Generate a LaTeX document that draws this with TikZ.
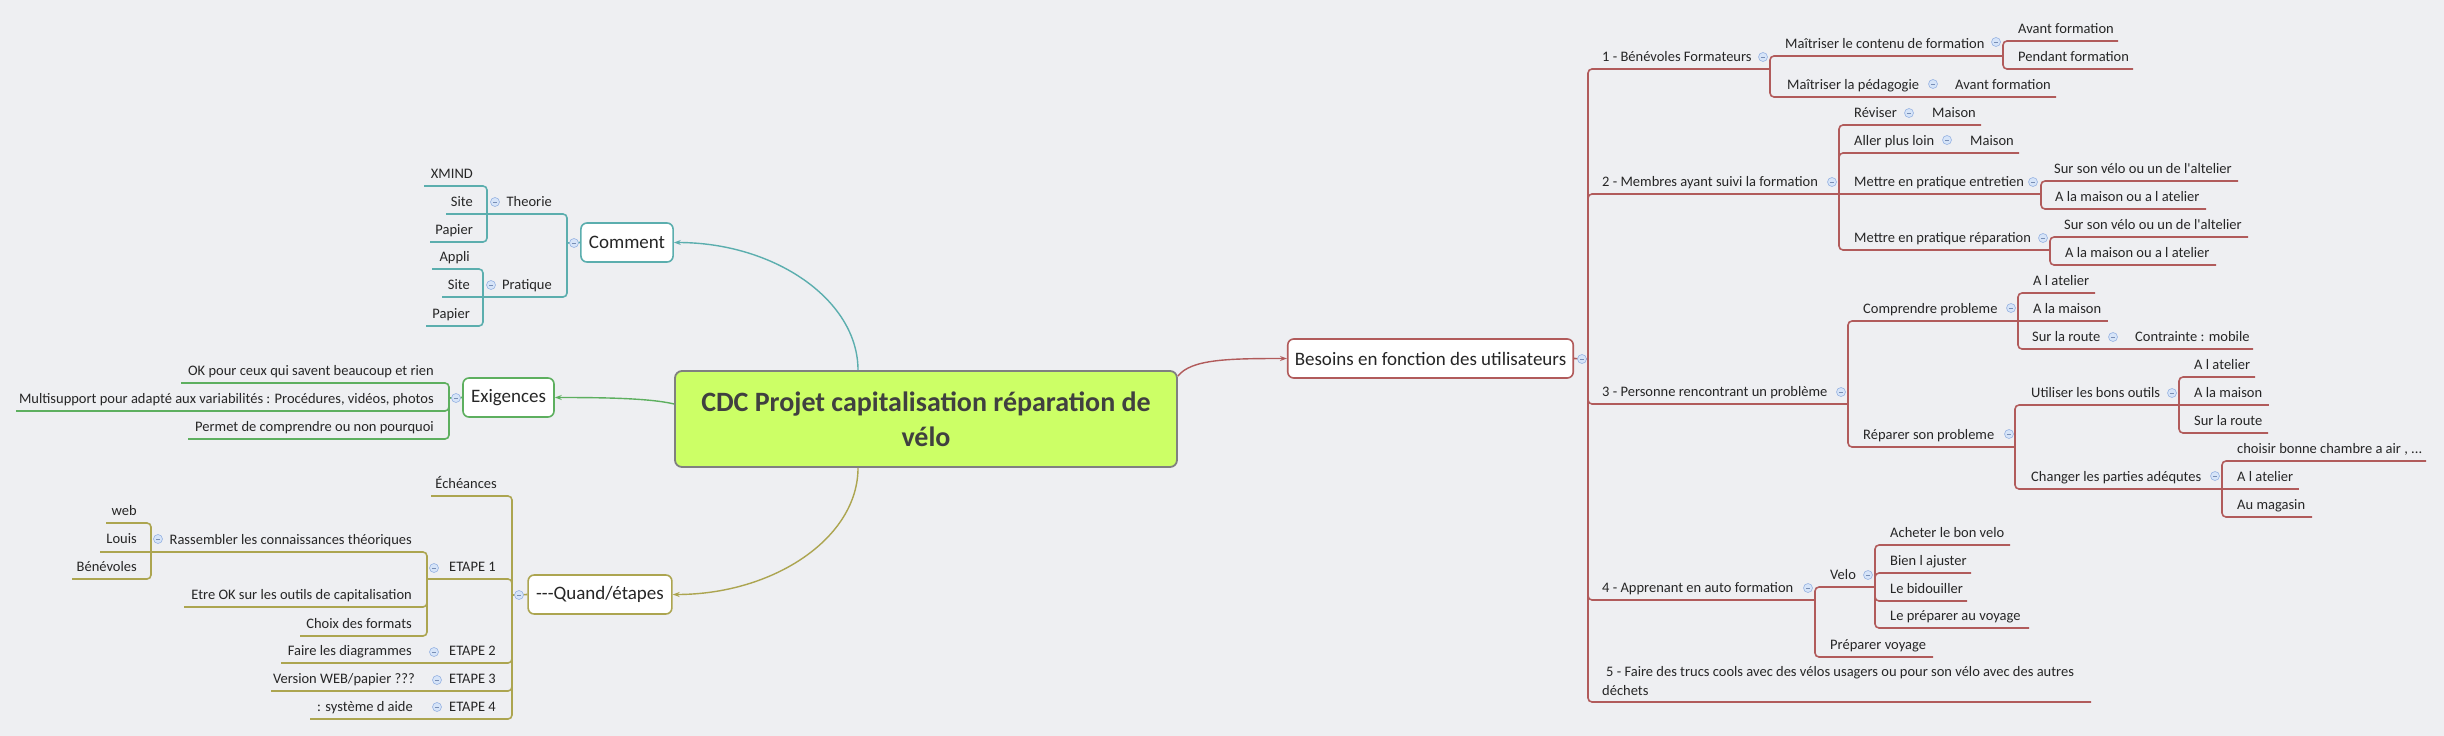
\documentclass[tikz,border=0pt]{standalone}
\usepackage{fontspec}
\setmainfont{Carlito}[Ligatures=TeXOff]
\usetikzlibrary{arrows.meta}
\definecolor{bgcol}{RGB}{238,239,242}
\definecolor{comm}{RGB}{91,174,174}
\definecolor{exig}{RGB}{93,175,95}
\definecolor{quand}{RGB}{172,165,80}
\definecolor{bes}{RGB}{177,91,91}
\definecolor{rootfill}{RGB}{204,255,102}
\definecolor{icofill}{RGB}{214,228,248}
\definecolor{icoline}{RGB}{150,178,226}

\begin{document}
\begin{tikzpicture}[x=1pt, y=-1pt, >={Stealth[length=7pt, width=5pt]},
    lbl/.style={inner sep=0, anchor=base west, text=black!85, font=\fontsize{14.5}{19}\selectfont},
    lblr/.style={lbl, anchor=base east},
    box/.style={draw, line width=1.6pt, rounded corners=6pt, fill=white, minimum height=39pt, inner xsep=8pt, text=black!85, font=\fontsize{19}{23}\selectfont},
    branch/.style={line width=1.6pt, rounded corners=4pt},
    icon/.style={circle, draw=icoline, fill=icofill, line width=0.6pt, minimum size=9pt, inner sep=0,
        path picture={\draw[icoline!80!black, line width=0.7pt] ([xshift=2.3pt]path picture bounding box.west) -- ([xshift=-2.3pt]path picture bounding box.east);}}]
\useasboundingbox (0,0) rectangle (2444,736);
\fill[bgcol] (0,0) rectangle (2444,736);

% centre et branches principales
\node[draw=black!50, line width=1.8pt, rounded corners=7pt, fill=rootfill, minimum width=502pt, minimum height=96pt, text=black!75, align=center, font=\fontsize{28}{35}\selectfont\bfseries] (root) at (926,419) {CDC Projet capitalisation réparation de\\vélo};
\node[box, draw=comm] (cmt) at (627,242.5) {Comment};
\node[box, draw=exig] (exg) at (508.5,397.5) {Exigences};
\node[box, draw=quand] (qnd) at (600,594.5) {-{}-{}-Quand/étapes};
\node[box, draw=bes, inner xsep=7pt] (bes) at (1430.5,358.5) {Besoins en fonction des utilisateurs};

\draw[comm, line width=1.4pt, ->] ([xshift=-68pt]root.north) .. controls +(0,-70) and +(101,0) .. (cmt.east);
\draw[exig, line width=1.4pt, ->] ([yshift=15pt]root.west) .. controls +(-25,-6) and +(46,0) .. (exg.east);
\draw[quand, line width=1.4pt, ->] ([xshift=-68pt]root.south) .. controls +(0,70) and +(101,0) .. (qnd.east);
\draw[bes, line width=1.4pt, ->] ([yshift=-6pt]root.north east) .. controls +(13,-17) and +(-58,0) .. (bes.west);

% Comment
\node[lblr] (theo) at (552,206) {Theorie};
\node[lblr] (xmind) at (473,178) {XMIND};
\node[lblr] (siteT) at (473,206) {Site};
\node[lblr] (papT) at (473,234) {Papier};
\node[lblr] (prat) at (552,289) {Pratique};
\node[lblr] (appli) at (470,261) {Appli};
\node[lblr] (siteP) at (470,289) {Site};
\node[lblr] (papP) at (470,318) {Papier};
\draw[comm, branch] (cmt.west) -- (567,243);
\draw[comm, branch] (567,243) |- (487,214);
\draw[comm, branch] (487,214) |- (424,186);
\draw[comm, branch] (487,214) -- (446,214);
\draw[comm, branch] (487,214) |- (430,242);
\draw[comm, branch] (567,243) |- (483,297);
\draw[comm, branch] (483,297) |- (432,269);
\draw[comm, branch] (483,297) -- (442,297);
\draw[comm, branch] (483,297) |- (426,326);

% Exigences
\node[lblr] (exg1) at (434,375) {OK pour ceux qui savent beaucoup et rien};
\node[lblr] (exg2) at (434,403) {Multisupport pour adapté aux variabilités : Procédures, vidéos, photos};
\node[lblr] (exg3) at (434,431) {Permet de comprendre ou non pourquoi};
\draw[exig, branch] (exg.west) -- (449,398);
\draw[exig, branch] (449,398) |- (181,383);
\draw[exig, branch] (449,398) |- (16,411);
\draw[exig, branch] (449,398) |- (188,439);

% Quand
\node[lblr] (ech) at (497,488) {Échéances};
\node[lblr] (et1) at (496,571) {ETAPE 1};
\node[lblr] (ras) at (412,544) {Rassembler les connaissances théoriques};
\node[lblr] (web) at (137,515) {web};
\node[lblr] (louis) at (137,543) {Louis};
\node[lblr] (benev) at (137,571) {Bénévoles};
\node[lblr] (etre) at (412,599) {Etre OK sur les outils de capitalisation};
\node[lblr] (choix) at (412,628) {Choix des formats};
\node[lblr] (et2) at (496,655) {ETAPE 2};
\node[lblr] (diag) at (412,655) {Faire les diagrammes};
\node[lblr] (et3) at (496,683) {ETAPE 3};
\node[lblr] (vers) at (415,683) {Version WEB/papier ???};
\node[lblr] (et4) at (496,711) {ETAPE 4};
\node[lblr] (aide) at (413,711) {: système d aide};
\draw[quand, branch] (qnd.west) -- (512,595);
\draw[quand, branch] (512,595) |- (431,496);
\draw[quand, branch] (512,595) |- (427,579);
\draw[quand, branch] (427,579) |- (151,552);
\draw[quand, branch] (151,552) |- (106,523);
\draw[quand, branch] (151,552) -- (100,552);
\draw[quand, branch] (151,552) |- (72,579);
\draw[quand, branch] (427,579) |- (184,607);
\draw[quand, branch] (427,579) |- (300,636);
\draw[quand, branch] (512,595) |- (281,663);
\draw[quand, branch] (512,595) |- (271,691);
\draw[quand, branch] (512,595) |- (310,719);

% Besoins
\node[lbl] (b1) at (1602,61) {1 - Bénévoles Formateurs};
\node[lbl] (b1a) at (1785,48) {Maîtriser le contenu de formation};
\node[lbl] (b1a1) at (2018,33) {Avant formation};
\node[lbl] (b1a2) at (2018,61) {Pendant formation};
\node[lbl] (b1b) at (1787,89) {Maîtriser la pédagogie};
\node[lbl] (b1b1) at (1955,89) {Avant formation};
\node[lbl] (b2) at (1602,186) {2 - Membres ayant suivi la formation};
\node[lbl] (rev) at (1854,117) {Réviser};
\node[lbl] (rev1) at (1932,117) {Maison};
\node[lbl] (aller) at (1854,145) {Aller plus loin};
\node[lbl] (aller1) at (1970,145) {Maison};
\node[lbl] (entr) at (1854,186) {Mettre en pratique entretien};
\node[lbl] (entr1) at (2054,173) {Sur son vélo ou un de l'altelier};
\node[lbl] (entr2) at (2055,201) {A la maison ou a l atelier};
\node[lbl] (repa) at (1854,242) {Mettre en pratique réparation};
\node[lbl] (repa1) at (2064,229) {Sur son vélo ou un de l'altelier};
\node[lbl] (repa2) at (2065,257) {A la maison ou a l atelier};
\node[lbl] (b3) at (1602,396) {3 - Personne rencontrant un problème};
\node[lbl] (compr) at (1863,313) {Comprendre probleme};
\node[lbl] (compr1) at (2033,285) {A l atelier};
\node[lbl] (compr2) at (2033,313) {A la maison};
\node[lbl] (compr3) at (2032,341) {Sur la route};
\node[lbl] (compr4) at (2135,341) {Contrainte : mobile};
\node[lbl] (rep) at (1863,439) {Réparer son probleme};
\node[lbl] (outil) at (2031,397) {Utiliser les bons outils};
\node[lbl] (outil1) at (2194,369) {A l atelier};
\node[lbl] (outil2) at (2194,397) {A la maison};
\node[lbl] (outil3) at (2194,425) {Sur la route};
\node[lbl] (chang) at (2031,481) {Changer les parties adéqutes};
\node[lbl] (chang1) at (2237,453) {choisir bonne chambre a air , ...};
\node[lbl] (chang2) at (2237,481) {A l atelier};
\node[lbl] (chang3) at (2237,509) {Au magasin};
\node[lbl] (b4) at (1602,592) {4 - Apprenant en auto formation};
\node[lbl] (velo) at (1830,579) {Velo};
\node[lbl] (velo1) at (1890,537) {Acheter le bon velo};
\node[lbl] (velo2) at (1890,565) {Bien l ajuster};
\node[lbl] (velo3) at (1890,593) {Le bidouiller};
\node[lbl] (velo4) at (1890,620) {Le préparer au voyage};
\node[lbl] (voy) at (1830,649) {Préparer voyage};
\node[lbl, align=left] (b5) at (1602,695) {\hspace{4pt}5 - Faire des trucs cools avec des vélos usagers ou pour son vélo avec des autres\\déchets};
\draw[bes, branch] (bes.east) -- (1588,359);
\draw[bes, branch] (1588,359) |- (1770,69);
\draw[bes, branch] (1770,69) |- (2003,56);
\draw[bes, branch] (2003,56) |- (2118,41);
\draw[bes, branch] (2003,56) |- (2133,69);
\draw[bes, branch] (1770,69) |- (2056,97);
\draw[bes, branch] (1588,359) |- (1839,194);
\draw[bes, branch] (1839,194) |- (1981,125);
\draw[bes, branch] (1839,194) |- (2019,153);
\draw[bes, branch] (1839,194) -- (2041,194);
\draw[bes, branch] (2041,194) |- (2238,181);
\draw[bes, branch] (2041,194) |- (2206,209);
\draw[bes, branch] (1839,194) |- (2050,250);
\draw[bes, branch] (2050,250) |- (2248,237);
\draw[bes, branch] (2050,250) |- (2216,265);
\draw[bes, branch] (1588,359) |- (1848,404);
\draw[bes, branch] (1848,404) |- (2018,321);
\draw[bes, branch] (2018,321) |- (2095,293);
\draw[bes, branch] (2018,321) -- (2108,321);
\draw[bes, branch] (2018,321) |- (2253,349);
\draw[bes, branch] (1848,404) |- (2015,447);
\draw[bes, branch] (2015,447) |- (2179,405);
\draw[bes, branch] (2179,405) |- (2255,377);
\draw[bes, branch] (2179,405) -- (2269,405);
\draw[bes, branch] (2179,405) |- (2268,433);
\draw[bes, branch] (2015,447) |- (2222,489);
\draw[bes, branch] (2222,489) |- (2426,461);
\draw[bes, branch] (2222,489) -- (2299,489);
\draw[bes, branch] (2222,489) |- (2312,517);
\draw[bes, branch] (1588,359) |- (1815,600);
\draw[bes, branch] (1815,600) |- (1875,587);
\draw[bes, branch] (1875,587) |- (2010,545);
\draw[bes, branch] (1875,587) |- (1971,573);
\draw[bes, branch] (1875,587) |- (1967,601);
\draw[bes, branch] (1875,587) |- (2029,628);
\draw[bes, branch] (1815,600) |- (1933,657);
\draw[bes, branch] (1588,359) |- (2091,702);

% boutons replier
\foreach \p in {(574,243),(495,202),(491,285),(456,398),(519,595),(434,568),(158,539),(434,652),(437,680),(437,707),
    (1582,359),(1763,57),(1996,42),(1933,84),(1832,182),(1909,113),(1947,140),(2033,182),(2043,238),
    (1841,392),(2011,308),(2113,337),(2009,434),(2172,393),(2215,476),(1808,588),(1868,575)}
    \node[icon] at \p {};
\end{tikzpicture}
\end{document}
